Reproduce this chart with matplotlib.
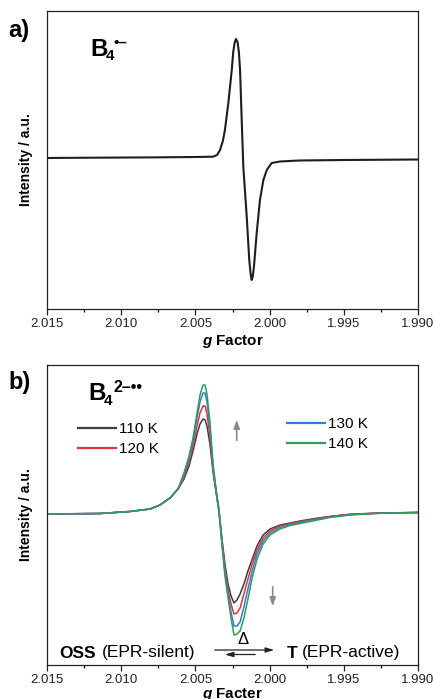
import matplotlib
matplotlib.use("Agg")
import matplotlib.pyplot as plt
from matplotlib.lines import Line2D

plt.rcParams["font.family"] = ["Liberation Sans", "DejaVu Sans"]
plt.rcParams["mathtext.fontset"] = "custom"
plt.rcParams["mathtext.rm"] = "Liberation Sans"
plt.rcParams["mathtext.bf"] = "Liberation Sans:bold"
plt.rcParams["mathtext.it"] = "Liberation Sans:italic"
plt.rcParams["mathtext.bfit"] = "Liberation Sans:italic:bold"

# panel a: B4 radical anion spectrum (g, intensity a.u.)
g_a = [2.0150, 2.0120, 2.0080, 2.0050, 2.00381, 2.00354, 2.00334, 2.00315, 2.00301,
       2.00278, 2.00255, 2.00245, 2.00236, 2.00226, 2.00216, 2.00207, 2.00199, 2.00188,
       2.00177, 2.00154, 2.00137, 2.00128, 2.00121, 2.00114, 2.00105, 2.00087, 2.00065,
       2.00042, 2.00019, 1.99986, 1.99930, 1.99800, 1.99500, 1.99000]
int_a = [0, 0.3, 0.6, 1.0, 1.3, 3, 8, 17, 28,
         55, 88, 106, 115, 119, 116, 106, 88, 38,
         -9, -59, -102, -116, -122, -119, -108, -75, -42,
         -22, -12, -5, -3.5, -2.5, -2, -1.5]

# panel b: B4 2- diradical at four temperatures
g_b = [2.01500, 2.01143, 2.00941, 2.00806, 2.00739, 2.00671, 2.00617, 2.00577, 2.00543,
       2.00516, 2.00489, 2.00469, 2.00449, 2.00435, 2.00422, 2.00402, 2.00381, 2.00361,
       2.00341, 2.00321, 2.00301, 2.00280, 2.00260, 2.00240, 2.00220, 2.00199, 2.00173,
       2.00146, 2.00119, 2.00085, 2.00044, 1.99997, 1.99930, 1.99862, 1.99795, 1.99694,
       1.99593, 1.99458, 1.99256, 1.99000]
int_110 = [0, 0.5, 2.5, 5, 9, 16, 25, 35, 48,
           63, 80, 90, 95, 94, 88, 70, 42, 22,
           3, -25, -50, -70, -82, -89, -86, -80, -70,
           -57, -46, -32, -21, -15, -11, -9, -7, -4.5,
           -2.5, -0.3, 1.0, 1.5]
int_120 = [0, 0.5, 2.5, 5, 9, 16, 25, 37, 52,
           68, 88, 101, 108, 108, 100, 78, 45, 23,
           3, -27, -54, -76, -90, -100, -99, -94, -80,
           -65, -51, -36, -24, -17, -12, -9.5, -7.5, -5,
           -2.5, -0.3, 1.0, 1.5]
int_130 = [0, 0.5, 2.5, 5, 9, 16, 25, 39, 55,
           73, 96, 112, 121, 121, 112, 86, 47, 24,
           3, -29, -58, -80, -98, -112, -112, -108, -93,
           -75, -58, -40, -27, -19, -13.5, -10.5, -8.5, -5.5,
           -3, -0.6, 0.8, 1.5]
int_140 = [0, 0.5, 2.5, 5, 9, 16, 25, 41, 58,
           76, 101, 119, 129, 129, 120, 92, 50, 25,
           3, -31, -62, -84, -104, -121, -120, -117, -104,
           -85, -65, -45, -30, -21, -15, -11.5, -9.5, -6.5,
           -3.5, -1, 0.7, 1.5]
temps = ["110 K", "120 K", "130 K", "140 K"]
colors = ["#3d3d3d", "#e5323a", "#3a78d6", "#2f9e57"]

W, H = 433, 699


def fx(px):
    return px / W


def fy(py):
    return 1 - py / H


fig = plt.figure(figsize=(W / 100, H / 100), dpi=100)
ax_a = fig.add_axes([fx(47), fy(309), fx(418) - fx(47), fy(10.7) - fy(309)])
ax_b = fig.add_axes([fx(47), fy(665), fx(418) - fx(47), fy(365) - fy(665)])

ax_a.plot(g_a, int_a, color="#1e1e1e", lw=1.5)
ax_a.set_ylim(-151, 147.3)

for vals, c, lab in zip([int_110, int_120, int_130, int_140], colors, temps):
    ax_b.plot(g_b, vals, color=c, lw=1.1, label=lab)
ax_b.set_ylim(-151, 149)

for ax in (ax_a, ax_b):
    ax.set_xlim(2.015, 1.990)
    ax.set_xticks([2.015, 2.010, 2.005, 2.000, 1.995, 1.990])
    ax.set_xticklabels(["2.015", "2.010", "2.005", "2.000", "1.995", "1.990"])
    ax.set_xticks([2.0125, 2.0075, 2.0025, 1.9975, 1.9925], minor=True)
    ax.set_yticks([])
    ax.tick_params(axis="x", which="major", direction="out", length=4, width=0.9,
                   labelsize=9.5, pad=2.5, colors="#222222")
    ax.tick_params(axis="x", which="minor", direction="out", length=2.5, width=0.9)
    for s in ax.spines.values():
        s.set_linewidth(0.9)
        s.set_color("#222222")
    ax.set_ylabel("Intensity / a.u.", fontsize=10, fontweight="bold", labelpad=2)
    ax.yaxis.set_label_coords(-0.038, 0.5)

ax_a.set_xlabel(r"$\mathbfit{g}$ Factor", fontsize=11, fontweight="bold", labelpad=2)
ax_b.set_xlabel(r"$\mathbfit{g}$ Facter", fontsize=11, fontweight="bold", labelpad=0)

# legends in two columns
h = [Line2D([], [], color=c, lw=1.6) for c in colors]
leg1 = ax_b.legend(h[:2], temps[:2], loc="upper left", bbox_to_anchor=(fx(78), fy(422)),
                   bbox_transform=fig.transFigure, frameon=False, fontsize=11,
                   handlelength=2.5, handletextpad=0.2, labelspacing=0.4,
                   borderpad=0, borderaxespad=0)
ax_b.add_artist(leg1)
ax_b.legend(h[2:], temps[2:], loc="upper left", bbox_to_anchor=(fx(287), fy(417)),
            bbox_transform=fig.transFigure, frameon=False, fontsize=11,
            handlelength=2.5, handletextpad=0.2, labelspacing=0.4,
            borderpad=0, borderaxespad=0)

# panel labels and species labels
fig.text(fx(8), fy(30), "a)", fontsize=17, fontweight="bold", va="center", ha="left")
fig.text(fx(8), fy(382), "b)", fontsize=17, fontweight="bold", va="center", ha="left")
fig.text(fx(90), fy(50), "B", fontsize=17.5, fontweight="bold", va="center", ha="left")
fig.text(fx(106), fy(56), "4", fontsize=11, fontweight="bold", va="center", ha="left")
fig.text(fx(114), fy(43), "\u2022\u2013", fontsize=11, fontweight="bold", va="center", ha="left")
fig.text(fx(88), fy(394), "B", fontsize=17.5, fontweight="bold", va="center", ha="left")
fig.text(fx(104), fy(401), "4", fontsize=11, fontweight="bold", va="center", ha="left")
fig.text(fx(113), fy(388), "2\u2013\u2022\u2022", fontsize=11.5, fontweight="bold",
         va="center", ha="left")

# temperature trend arrows
arr = dict(arrowstyle="-|>,head_length=0.5,head_width=0.18", color="#8a8a8a", lw=1.2)
ax_b.annotate("", xy=(fx(236.7), fy(417)), xytext=(fx(236.7), fy(443)),
              xycoords="figure fraction", arrowprops=arr)
ax_b.annotate("", xy=(fx(272.7), fy(609)), xytext=(fx(272.7), fy(584)),
              xycoords="figure fraction", arrowprops=arr)

# equilibrium scheme
fig.text(fx(59), fy(653), "OSS", fontsize=12.5, fontweight="bold", va="center", ha="left")
fig.text(fx(102), fy(653), "(EPR-silent)", fontsize=12.5, va="center", ha="left")
fig.text(fx(287), fy(653), "T", fontsize=12.5, fontweight="bold", va="center", ha="left")
fig.text(fx(302), fy(653), "(EPR-active)", fontsize=12.5, va="center", ha="left")
fig.text(fx(243), fy(640), "\u0394", fontsize=12, va="center", ha="center")
eq = dict(arrowstyle="-|>,head_length=0.5,head_width=0.15", color="#222222", lw=0.9)
ax_b.annotate("", xy=(fx(277), fy(650)), xytext=(fx(212), fy(650)),
              xycoords="figure fraction", arrowprops=eq)
ax_b.annotate("", xy=(fx(222), fy(654.5)), xytext=(fx(258), fy(654.5)),
              xycoords="figure fraction", arrowprops=eq)

fig.savefig("out.png", dpi=100)
